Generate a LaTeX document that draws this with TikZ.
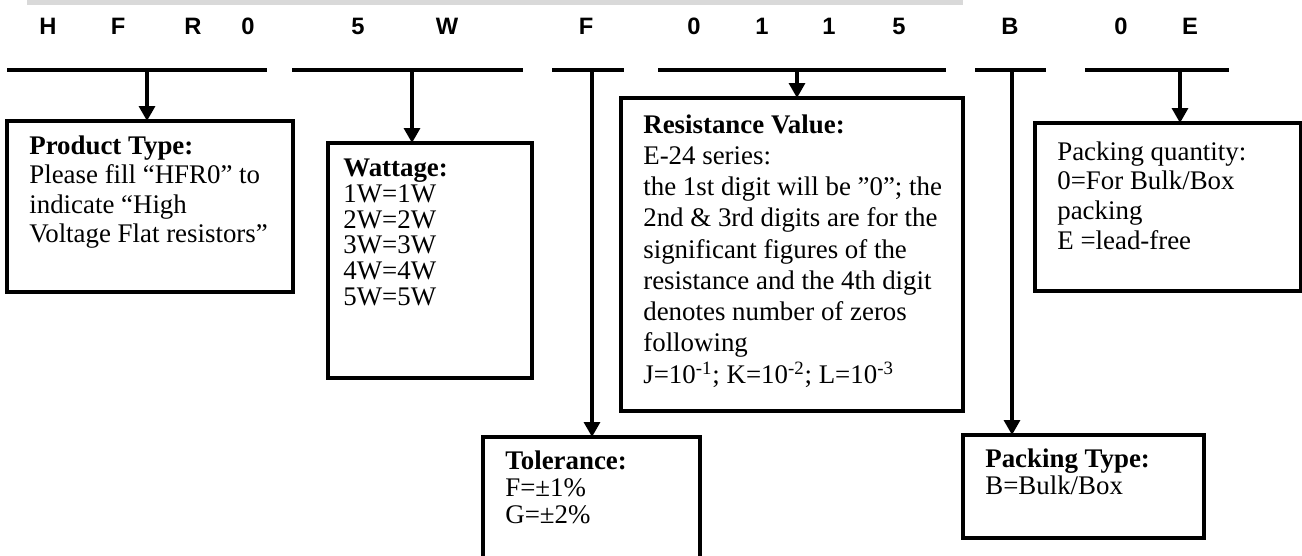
\documentclass[tikz,border=0pt]{standalone}
\usepackage{fontspec}
\setmainfont{Liberation Serif}
\newfontfamily\codefont{Liberation Sans}
\usetikzlibrary{calc,arrows.meta}

\begin{document}
\begin{tikzpicture}[x=0.02cm,y=-0.02cm,
  box/.style={draw,line width=2.1pt,anchor=north west,inner sep=0pt,outer sep=0pt},
  txt/.style={anchor=north west,align=left,inner sep=0pt,font=\fontsize{15.3}{#1}\selectfont},
  txt/.default=15.5pt,
  code/.style={font=\codefont\fontsize{13.5}{15}\selectfont\bfseries},
  seg/.style={line width=2.3pt},
  pointer/.style={line width=2pt,-{Triangle[width=9pt,length=8.5pt]}}]
  \def\u{0.02cm}
  \useasboundingbox (0,0) rectangle (1302,555);
  % ---------------- part number ----------------
  \fill[gray!30] (27,0) rectangle (963,4.5);
  \foreach \ch/\x [count=\i] in {H/48,F/118,R/193,0/248,5/358,W/447,F/586,0/694,1/762,1/829,5/899,B/1010,0/1121,E/1190}{
    \node[code] (ch\i) at (\x,26) {\ch};
  }
  \foreach \n/\a/\b/\s in {pt/7/267/147,wt/292/523/412,tol/552/624/592,rv/658/946/797,pk/975/1046/1012,pq/1085/1229/1180}{
    \coordinate (\n-a) at (\a,70);
    \coordinate (\n-b) at (\b,70);
    \coordinate (\n-s) at (\s,70);
    \draw[seg] (\n-a) -- (\n-b);
  }
  % ---------------- boxes ----------------
  \node[box,minimum width=286*\u,minimum height=171*\u] (pt) at (7,121) {};
  \node[box,minimum width=204*\u,minimum height=235*\u] (wt) at (328,143) {};
  \node[box,minimum width=217*\u,minimum height=170*\u] (tol) at (483,437) {};
  \node[box,minimum width=342*\u,minimum height=313*\u] (rv) at (621,98) {};
  \node[box,minimum width=241*\u,minimum height=103*\u] (pk) at (963,435) {};
  \node[box,minimum width=266*\u,minimum height=168*\u] (pq) at (1035,123) {};
  \node[txt=16.8pt] (pt-t) at ($(pt.north west)+(22,14)$) {\textbf{Product Type:}\\Please fill “HFR0” to\\indicate “High\\Voltage Flat resistors”};
  \node[txt=14.6pt] (wt-t) at ($(wt.north west)+(15,16)$) {\textbf{Wattage:}\\1W=1W\\2W=2W\\3W=3W\\4W=4W\\5W=5W};
  \node[txt=15.6pt] (tol-t) at ($(tol.north west)+(22,13)$) {\textbf{Tolerance:}\\F=±1\%\\G=±2\%};
  \node[txt=17.8pt] (rv-t) at ($(rv.north west)+(22,16)$) {\textbf{Resistance Value:}\\E-24 series:\\the 1st digit will be ”0”; the\\2nd \& 3rd digits are for the\\significant figures of the\\resistance and the 4th digit\\denotes number of zeros\\following\\J=10\textsuperscript{-1}; K=10\textsuperscript{-2}; L=10\textsuperscript{-3}};
  \node[txt=15.9pt] (pk-t) at ($(pk.north west)+(22,13)$) {\textbf{Packing Type:}\\B=Bulk/Box};
  \node[txt=17pt] (pq-t) at ($(pq.north west)+(22,18)$) {Packing quantity:\\0=For Bulk/Box\\packing\\E =lead-free};
  % ---------------- pointers ----------------
  \foreach \n in {pt,wt,tol,rv,pk,pq}
    \draw[pointer] (\n-s) -- (\n-s |- \n.north);
\end{tikzpicture}
\end{document}
